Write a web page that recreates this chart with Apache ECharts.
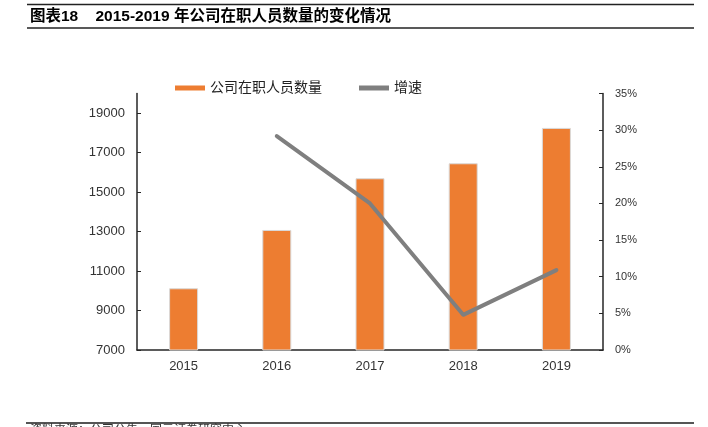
<!DOCTYPE html>
<html>
<head>
<meta charset="utf-8">
<script src="https://cdn.jsdelivr.net/npm/echarts@6/dist/echarts.min.js"></script>
<style>
html,body{margin:0;padding:0;background:#fff;}
#chart{width:708px;height:427px;}
</style>
</head>
<body>
<div id="chart"></div>
<script>
// ---- data ----
const categories = ['2015', '2016', '2017', '2018', '2019'];
const headcount = [10128, 13084, 15704, 16464, 18255];
const growth = [null, 29.2, 20.0, 4.8, 10.9];
const leftTicks = [7000, 9000, 11000, 13000, 15000, 17000, 19000];
const seriesNames = ['公司在职人员数量', '增速'];
const titleText = '图表18    2015-2019 年公司在职人员数量的变化情况';
const sourceText = '资料来源：公司公告，国元证券研究中心';

const FONT = '"Liberation Sans", Arial, "Noto Sans CJK SC", sans-serif';
const chart = echarts.init(document.getElementById('chart'), null, {renderer: 'canvas'});

const option = {
  backgroundColor: '#fff',
  animation: false,
  textStyle: {fontFamily: FONT},
  graphic: [
    {type: 'line', shape: {x1: 27, y1: 4.5, x2: 694, y2: 4.5}, style: {stroke: '#222', lineWidth: 1.5}},
    {type: 'text', x: 30, y: 16.5, style: {text: titleText, font: 'bold 15.5px ' + FONT, fill: '#000', verticalAlign: 'middle'}},
    {type: 'line', shape: {x1: 27, y1: 28, x2: 694, y2: 28}, style: {stroke: '#222', lineWidth: 1.5}},
    {type: 'line', shape: {x1: 26, y1: 423, x2: 694, y2: 423}, style: {stroke: '#555', lineWidth: 2}},
    {type: 'text', x: 30, y: 425, style: {text: sourceText, font: '12px ' + FONT, fill: '#333', verticalAlign: 'top'}}
  ],
  legend: {
    left: 175,
    top: 81,
    padding: 0,
    itemWidth: 30,
    itemHeight: 5,
    itemGap: 37,
    textStyle: {fontSize: 14, color: '#222', fontFamily: FONT},
    data: [
      {name: seriesNames[0], icon: 'rect', itemStyle: {borderWidth: 0}},
      {name: seriesNames[1], icon: 'rect', itemStyle: {borderWidth: 0}}
    ]
  },
  grid: {left: 137, right: 105, top: 93.5, bottom: 77},
  xAxis: {
    type: 'category',
    data: categories,
    axisLine: {lineStyle: {color: '#262626', width: 1.5}},
    axisTick: {inside: true, length: 5, lineStyle: {color: '#262626'}},
    axisLabel: {fontSize: 13, color: '#333', margin: 10}
  },
  yAxis: [
    {
      type: 'value',
      min: 7000,
      max: 20000,
      interval: 1000,
      splitLine: {show: false},
      axisLine: {show: true, lineStyle: {color: '#262626', width: 1.5}},
      axisTick: {show: true, inside: true, length: 4, customValues: leftTicks, lineStyle: {color: '#262626'}},
      axisLabel: {fontSize: 13, color: '#333', margin: 12, customValues: leftTicks, formatter: function (v) { return String(v); }}
    },
    {
      type: 'value',
      min: 0,
      max: 35,
      interval: 5,
      position: 'right',
      splitLine: {show: false},
      axisLine: {show: true, lineStyle: {color: '#262626', width: 1.5}},
      axisTick: {show: true, inside: true, length: 4, lineStyle: {color: '#262626'}},
      axisLabel: {fontSize: 11, color: '#333', margin: 12, formatter: '{value}%'}
    }
  ],
  series: [
    {
      name: seriesNames[0],
      type: 'bar',
      data: headcount,
      barWidth: 29,
      itemStyle: {color: '#ED7D31', borderColor: '#d9d9d9', borderWidth: 1}
    },
    {
      name: seriesNames[1],
      type: 'line',
      yAxisIndex: 1,
      data: growth,
      symbol: 'none',
      showSymbol: false,
      lineStyle: {color: '#7f7f7f', width: 4, cap: 'round', join: 'round'},
      itemStyle: {color: '#7f7f7f'}
    }
  ]
};
chart.setOption(option);
</script>
</body>
</html>
